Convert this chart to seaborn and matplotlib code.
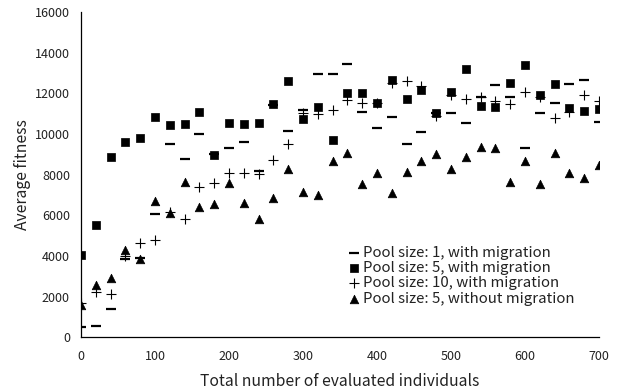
import matplotlib
matplotlib.use("Agg")
import matplotlib.pyplot as plt
import seaborn as sns
import pandas as pd

# evaluated individuals (x axis)
evaluated = [0, 20, 40, 60, 80, 100, 120, 140, 160, 180, 200, 220, 240, 260, 280, 300, 320, 340,
             360, 380, 400, 420, 440, 460, 480, 500, 520, 540, 560, 580, 600, 620, 640, 660, 680, 700]

# average fitness per setting
pool1_mig = [500, 540, 1400, 3850, 3900, 6050, 9500, 8770, 10000, 9000, 9330, 9590, 8170, 11450,
             10150, 11180, 12950, 12950, 13440, 11100, 10310, 10850, 9490, 10100, 11050, 11050,
             10530, 11800, 12430, 11840, 9330, 11050, 11510, 12460, 12660, 10590]
pool5_mig = [4030, 5540, 8850, 9610, 9820, 10820, 10430, 10480, 11080, 8980, 10540, 10510, 10540,
             11460, 12590, 10730, 11340, 9710, 12030, 12030, 11540, 12660, 11710, 12160, 11050,
             12070, 13180, 11380, 11310, 12530, 13410, 11930, 12460, 11260, 11130, 11250]
pool10_mig = [1700, 2240, 2120, 4000, 4620, 4790, 6150, 5800, 7380, 7600, 8070, 8070, 8050, 8740,
              9530, 11020, 10970, 11180, 11670, 11510, 11500, 12500, 12620, 12350, 10900, 11900,
              11710, 11840, 11640, 11480, 12080, 11800, 10770, 11100, 11930, 11620]
pool5_nomig = [1600, 2550, 2900, 4300, 3840, 6690, 6130, 7650, 6390, 6560, 7590, 6620, 5840, 6840,
               8260, 7150, 6980, 8660, 9050, 7530, 8070, 7080, 8150, 8670, 9020, 8280, 8880, 9350,
               9300, 7660, 8670, 7530, 9050, 8070, 7850, 8460]

labels = ["Pool size: 1, with migration", "Pool size: 5, with migration",
          "Pool size: 10, with migration", "Pool size: 5, without migration"]

sns.set_style("white")
plt.rcParams['font.family'] = ['Noto Sans CJK JP', 'DejaVu Sans']

df = pd.DataFrame({"x": evaluated, "p1": pool1_mig, "p5": pool5_mig,
                   "p10": pool10_mig, "p5n": pool5_nomig})

fig = plt.figure(figsize=(6.21, 3.91), dpi=100)
ax = fig.add_axes([81 / 621, 1 - 337.3 / 391, 518 / 621, 325.3 / 391])

sns.scatterplot(data=df, x="x", y="p1", marker="_", s=52, linewidth=1.6,
                color="black", edgecolor="black", label=labels[0], ax=ax)
sns.scatterplot(data=df, x="x", y="p5", marker="s", s=32, linewidth=0.5,
                color="black", edgecolor="black", label=labels[1], ax=ax)
sns.scatterplot(data=df, x="x", y="p10", marker="+", s=52, linewidth=0.8,
                color="black", edgecolor="black", label=labels[2], ax=ax)
sns.scatterplot(data=df, x="x", y="p5n", marker="^", s=38, linewidth=0.5,
                color="black", edgecolor="black", label=labels[3], ax=ax)

ax.set_xlim(0, 700)
ax.set_ylim(0, 16000)
ax.set_xticks([0, 100, 200, 300, 400, 500, 600, 700])
ax.set_yticks([0, 2000, 4000, 6000, 8000, 10000, 12000, 14000, 16000])
ax.tick_params(axis="both", direction="in", length=4, width=0.8, color="black",
               labelsize=9, labelcolor="#222222")
ax.tick_params(axis="x", pad=9)
ax.tick_params(axis="y", pad=8)

sns.despine(ax=ax)
for side in ["left", "bottom"]:
    ax.spines[side].set_color("black")
    ax.spines[side].set_linewidth(0.9)

ax.set_xlabel("Total number of evaluated individuals", fontsize=11.3, color="#222222", labelpad=7)
ax.set_ylabel("Average fitness", fontsize=11.3, color="#222222", labelpad=3)

ax.legend(loc="upper left", bbox_to_anchor=(349 / 621, 1 - 246 / 391),
          bbox_transform=fig.transFigure, frameon=False, borderpad=0,
          handlelength=0.6, handletextpad=0.35, labelspacing=0.08,
          fontsize=10.8, labelcolor="#222222", borderaxespad=0)

fig.savefig("out.png", dpi=100)
